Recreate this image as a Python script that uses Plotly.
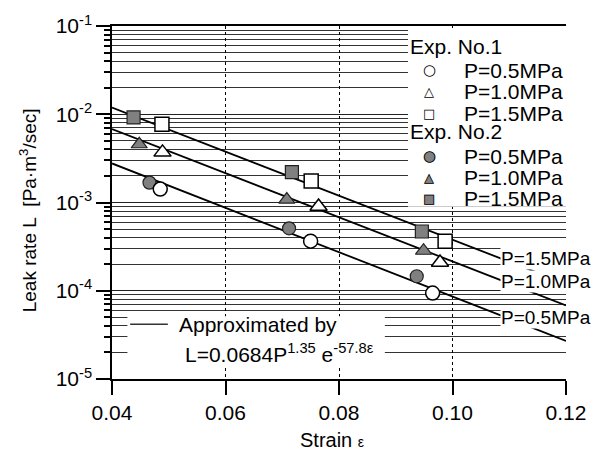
import math
import plotly.graph_objects as go

# ---------------- data ----------------
# Exp. No.1 (open markers)
exp1_strain_05 = [0.0485, 0.0750, 0.0965]
exp1_leak_05 = [1.42e-3, 3.65e-4, 9.4e-5]
exp1_strain_10 = [0.0489, 0.0764, 0.0978]
exp1_leak_10 = [3.7e-3, 9.0e-4, 2.09e-4]
exp1_strain_15 = [0.0488, 0.0751, 0.0987]
exp1_leak_15 = [7.7e-3, 1.75e-3, 3.65e-4]

# Exp. No.2 (filled markers)
exp2_strain_05 = [0.0466, 0.0712, 0.0937]
exp2_leak_05 = [1.68e-3, 5.1e-4, 1.46e-4]
exp2_strain_10 = [0.0448, 0.0708, 0.0949]
exp2_leak_10 = [4.57e-3, 1.08e-3, 2.84e-4]
exp2_strain_15 = [0.0438, 0.0717, 0.0946]
exp2_leak_15 = [9.2e-3, 2.21e-3, 4.69e-4]

# Approximation lines (end points)
fit_strain = [0.04, 0.12]
fit_05 = [2.77e-3, 2.7e-5]
fit_10 = [6.8e-3, 6.8e-5]
fit_15 = [1.19e-2, 1.2e-4]

x_ticks = [0.04, 0.06, 0.08, 0.10, 0.12]
x_ticktext = ["0.04", "0.06", "0.08", "0.10", "0.12"]
y_ticks = [1e-5, 1e-4, 1e-3, 1e-2, 1e-1]
y_ticktext = ["10<sup>-5</sup>", "10<sup>-4</sup>", "10<sup>-3</sup>", "10<sup>-2</sup>", "10<sup>-1</sup>"]

FONT = "Liberation Sans, Arial, sans-serif"
GRAY = "#808080"

fig = go.Figure()

# fit lines
for yv in (fit_05, fit_10, fit_15):
    fig.add_trace(go.Scatter(x=fit_strain, y=yv, mode="lines",
                             line=dict(color="black", width=1.8),
                             showlegend=False, hoverinfo="skip"))

# Exp. No.2 filled markers (drawn first)
filled = dict(color=GRAY, line=dict(color="#202020", width=1.2))
fig.add_trace(go.Scatter(x=exp2_strain_05, y=exp2_leak_05, mode="markers",
                         marker=dict(symbol="circle", size=13, **filled), showlegend=False))
fig.add_trace(go.Scatter(x=exp2_strain_10, y=exp2_leak_10, mode="markers",
                         marker=dict(symbol="triangle-up", size=14, **filled), showlegend=False))
fig.add_trace(go.Scatter(x=exp2_strain_15, y=exp2_leak_15, mode="markers",
                         marker=dict(symbol="square", size=13, **filled), showlegend=False))

# Exp. No.1 open markers
opened = dict(color="white", line=dict(color="black", width=1.5))
fig.add_trace(go.Scatter(x=exp1_strain_05, y=exp1_leak_05, mode="markers",
                         marker=dict(symbol="circle", size=14, **opened), showlegend=False))
fig.add_trace(go.Scatter(x=exp1_strain_10, y=exp1_leak_10, mode="markers",
                         marker=dict(symbol="triangle-up", size=15, **opened), showlegend=False))
fig.add_trace(go.Scatter(x=exp1_strain_15, y=exp1_leak_15, mode="markers",
                         marker=dict(symbol="square", size=14, **opened), showlegend=False))

shapes = [
    # white background of the key (covers grid lines)
    dict(type="rect", xref="paper", yref="paper", x0=0.652, x1=1.0, y0=0.488, y1=0.994,
         fillcolor="white", line=dict(width=0), layer="above"),
    # white background of the approximation text
    dict(type="rect", xref="paper", yref="paper", x0=0.034, x1=0.601, y0=0.04, y1=0.178,
         fillcolor="white", line=dict(width=0), layer="above"),
    # sample line for the approximation
    dict(type="line", xref="paper", yref="paper", x0=0.040, x1=0.123, y0=0.155, y1=0.155,
         line=dict(color="#333", width=1.6), layer="above"),
]

ann = []
def txt(x, y, text, size=21, xanchor="left", yanchor="middle", color="black", family=FONT, **kw):
    ann.append(dict(x=x, y=y, xref="paper", yref="paper", text=text, showarrow=False,
                    xanchor=xanchor, yanchor=yanchor,
                    font=dict(family=family, size=size, color=color), **kw))

# key
txt(0.653, 0.943, "Exp. No.1")
txt(0.653, 0.7006, "Exp. No.2")
rows = [(0.875, "P=0.5MPa"), (0.815, "P=1.0MPa"), (0.753, "P=1.5MPa"),
        (0.6317, "P=0.5MPa"), (0.572, "P=1.0MPa"), (0.5124, "P=1.5MPa")]
for y, t in rows:
    txt(0.770, y, t)
SYM = "DejaVu Sans"
sx = 0.699
txt(sx, 0.875, "\u25CB", size=15, xanchor="center", family=SYM)
txt(sx, 0.815, "\u25B3", size=13, xanchor="center", family=SYM)
txt(sx, 0.753, "\u25A1", size=13, xanchor="center", family=SYM)
txt(sx, 0.6317, "\u25CF", size=15, xanchor="center", family=SYM, color=GRAY)
txt(sx, 0.6317, "\u25CB", size=15, xanchor="center", family=SYM)
txt(sx, 0.572, "\u25B2", size=13, xanchor="center", family=SYM, color=GRAY)
txt(sx, 0.572, "\u25B3", size=13, xanchor="center", family=SYM)
txt(sx, 0.5124, "\u25A0", size=13, xanchor="center", family=SYM, color=GRAY)
txt(sx, 0.5124, "\u25A1", size=13, xanchor="center", family=SYM)

# approximation text
txt(0.143, 0.155, "Approximated by")
txt(0.156, 0.03, "L=0.0684P<sup>1.35</sup> e<sup>-57.8\u03b5</sup>", yanchor="bottom")

# line labels
for y, t in [(2.29e-4, "P=1.5MPa"), (1.26e-4, "P=1.0MPa"), (4.93e-5, "P=0.5MPa")]:
    ann.append(dict(x=0.1084, y=math.log10(y), xref="x", yref="y", text=t,
                    showarrow=False, xanchor="left", yanchor="middle", bgcolor="white",
                    borderpad=0, font=dict(family=FONT, size=19, color="black")))

# axis titles
txt(-0.185, 0.478, "Leak rate\u00a0L\u00a0\u00a0[Pa\u00b7m<sup>3</sup>/sec]",
    size=19, xanchor="center", textangle=-90)
txt(0.485, -0.173, "Strain <span style='font-size:14px'>\u03b5</span>", size=20, xanchor="center")

fig.update_layout(
    width=600, height=465,
    margin=dict(l=112, r=34, t=16, b=86),
    paper_bgcolor="white", plot_bgcolor="white",
    font=dict(family=FONT, color="black"),
    shapes=shapes, annotations=ann,
    showlegend=False,
)
fig.update_xaxes(range=[0.04, 0.12], tickmode="array", tickvals=x_ticks, ticktext=x_ticktext,
                 ticks="outside", ticklen=14, tickwidth=1.5, tickcolor="black",
                 showline=True, linecolor="black", linewidth=1.5, mirror=True,
                 showgrid=True, gridcolor="black", gridwidth=1, griddash="dot",
                 zeroline=False, tickfont=dict(size=21, family=FONT))
fig.update_yaxes(type="log", range=[-5, -1], tickmode="array", tickvals=y_ticks, ticktext=y_ticktext,
                 ticks="outside", ticklen=14, tickwidth=1.5, tickcolor="black",
                 showline=True, linecolor="black", linewidth=1.5,
                 showgrid=True, gridcolor="#222", gridwidth=1,
                 minor=dict(dtick="D1", ticks="outside", ticklen=6, tickcolor="black",
                            showgrid=True, gridcolor="#333", gridwidth=1),
                 zeroline=False, tickfont=dict(size=21, family=FONT))

fig.write_html("out.html")
